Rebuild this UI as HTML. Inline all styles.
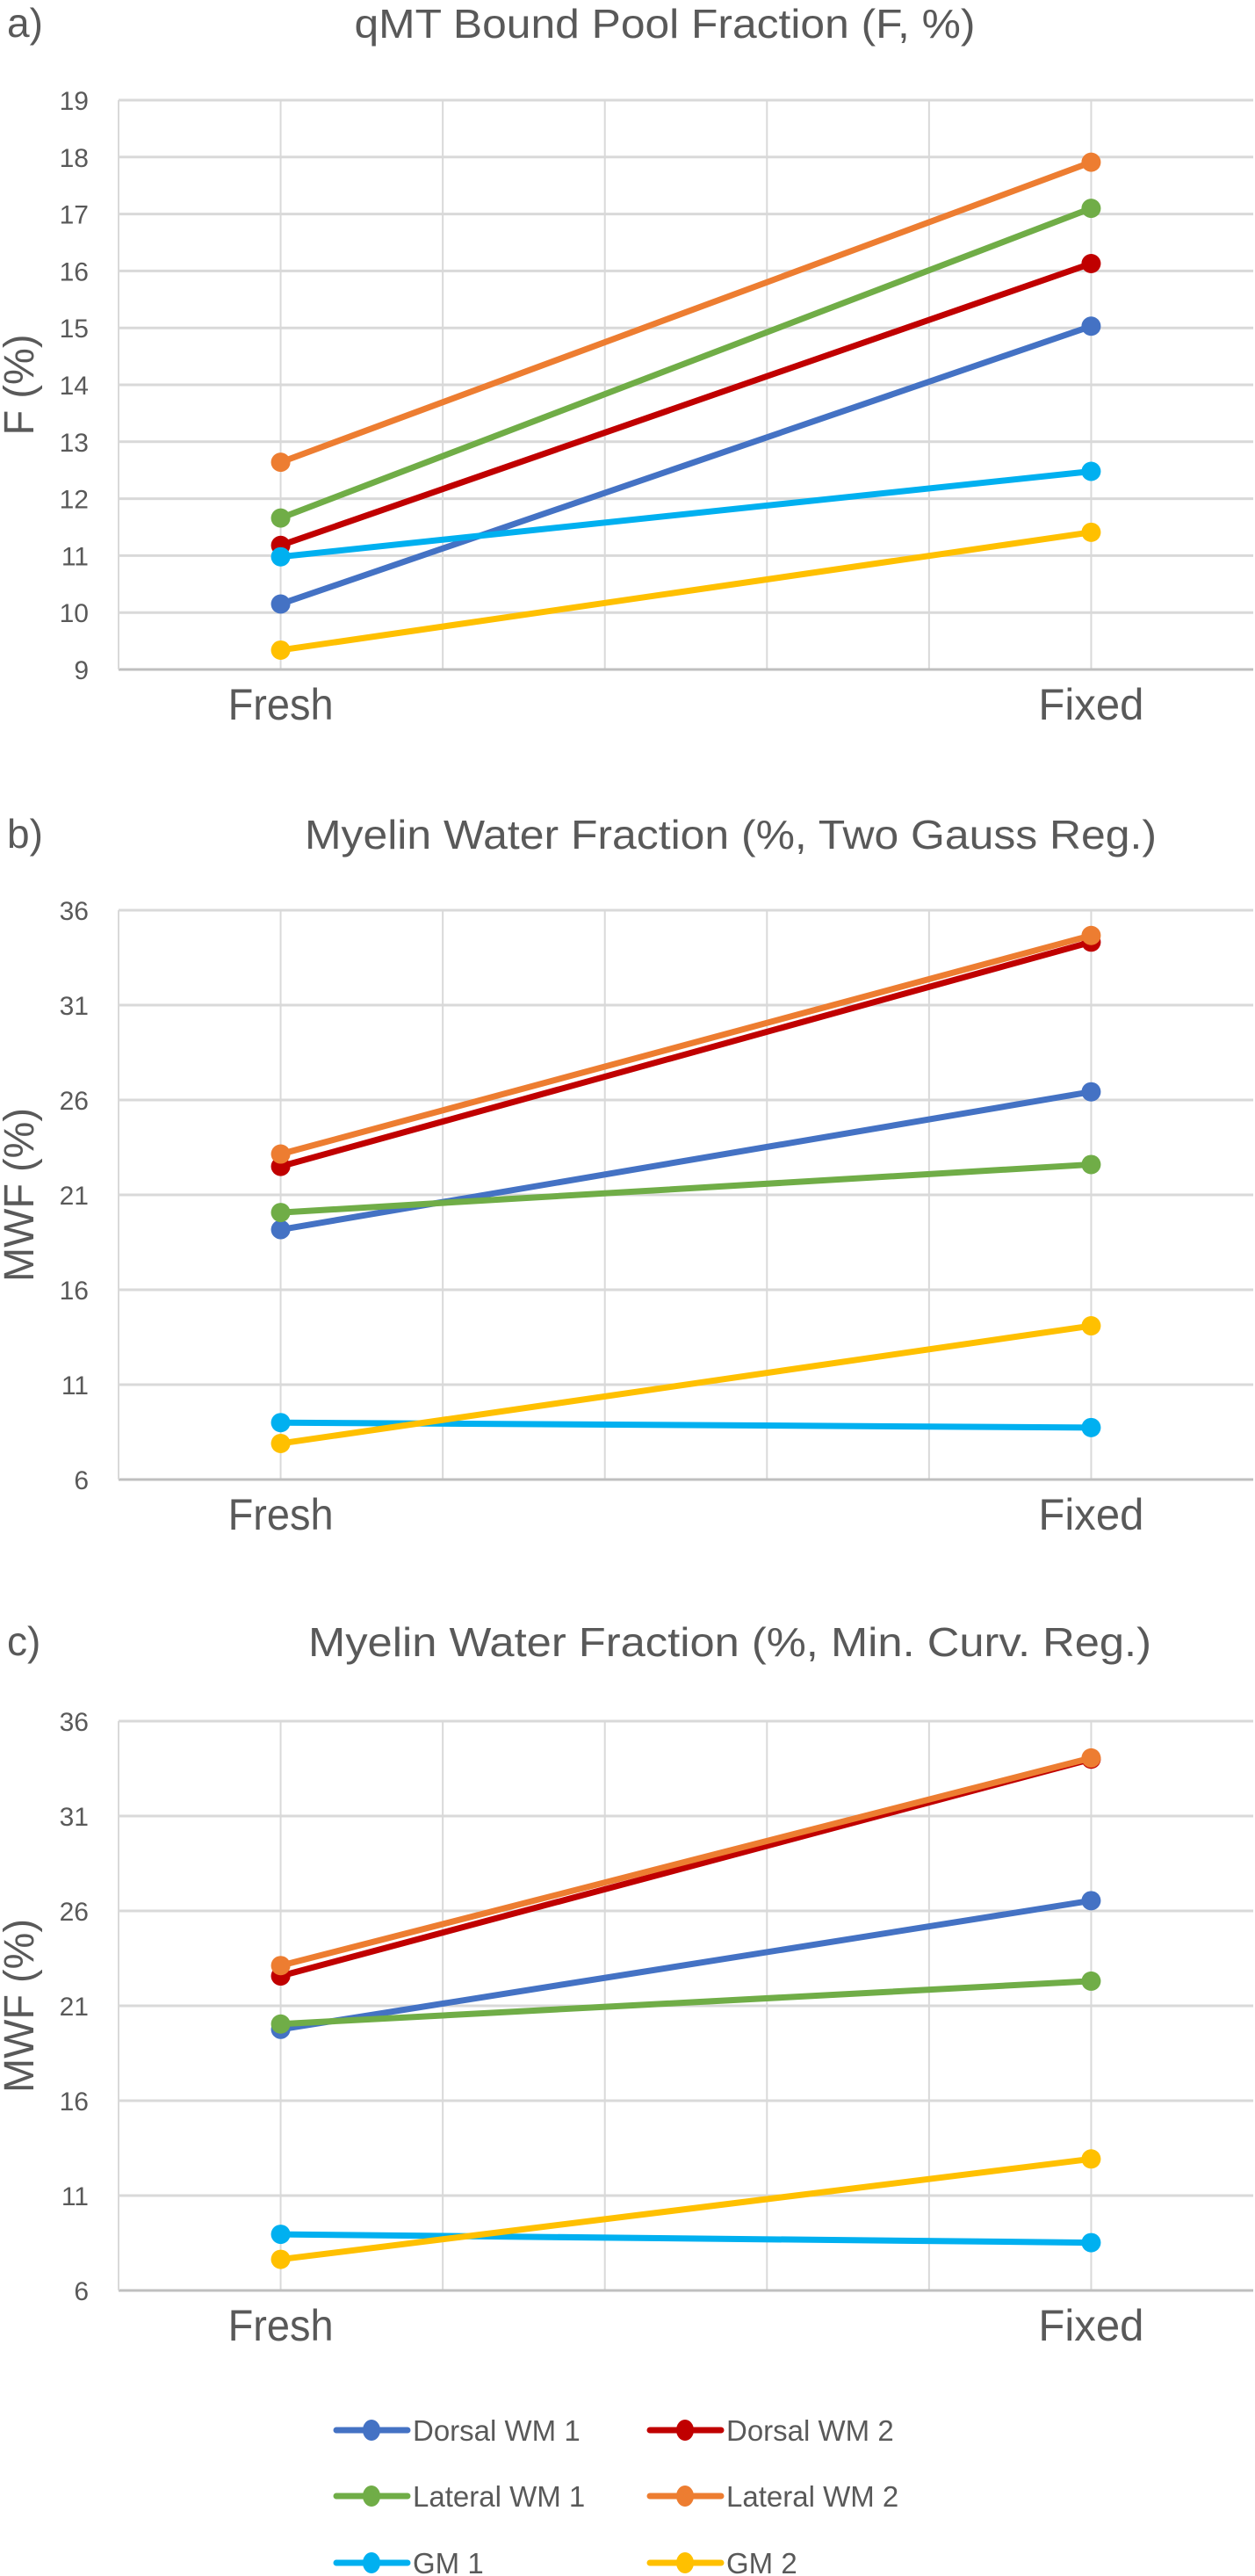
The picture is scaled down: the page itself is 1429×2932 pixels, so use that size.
<!DOCTYPE html>
<html><head><meta charset="utf-8"><style>
html,body{margin:0;padding:0;background:#fff;}
svg{display:block;font-family:"Liberation Sans",sans-serif;}
</style></head><body>
<svg id="fig" width="1429" height="2932" viewBox="0 0 1429 2932" xmlns="http://www.w3.org/2000/svg"></svg>
<script>
const categories = ["Fresh", "Fixed"];
const seriesNames = ["Dorsal WM 1", "Dorsal WM 2", "Lateral WM 1", "Lateral WM 2", "GM 1", "GM 2"];
const seriesKeys = ["dorsal-wm-1", "dorsal-wm-2", "lateral-wm-1", "lateral-wm-2", "gm-1", "gm-2"];
const colors = ["#4472C4", "#C00000", "#70AD47", "#ED7D31", "#00B0F0", "#FFC000"];
// Panel a: qMT F (%)
const aDorsal1 = [10.15, 15.03];
const aDorsal2 = [11.18, 16.13];
const aLateral1 = [11.66, 17.1];
const aLateral2 = [12.64, 17.91];
const aGM1 = [10.98, 12.48];
const aGM2 = [9.34, 11.41];
const aTicks = [9, 10, 11, 12, 13, 14, 15, 16, 17, 18, 19];
// Panel b: MWF two gauss
const bDorsal1 = [19.17, 26.43];
const bDorsal2 = [22.5, 34.32];
const bLateral1 = [20.07, 22.6];
const bLateral2 = [23.15, 34.67];
const bGM1 = [9.0, 8.74];
const bGM2 = [7.9, 14.1];
const bTicks = [6, 11, 16, 21, 26, 31, 36];
// Panel c: MWF min curv
const cDorsal1 = [19.76, 26.54];
const cDorsal2 = [22.57, 34.0];
const cLateral1 = [20.04, 22.3];
const cLateral2 = [23.12, 34.06];
const cGM1 = [8.96, 8.52];
const cGM2 = [7.64, 12.93];
const cTicks = [6, 11, 16, 21, 26, 31, 36];

const NS = "http://www.w3.org/2000/svg";
const svg = document.getElementById("fig");
function mk(tag, attrs, parent) {
  const e = document.createElementNS(NS, tag);
  for (const k in attrs) e.setAttribute(k, attrs[k]);
  (parent || svg).appendChild(e);
  return e;
}

const panels = [
  {id: "a", label: "a)", title: "qMT Bound Pool Fraction (F, %)", titleX: 757, titleW: 707, ylab: "F (%)", ylabW: 115,
   top: 114, series: [aDorsal1, aDorsal2, aLateral1, aLateral2, aGM1, aGM2], ticks: aTicks, titleY: 26},
  {id: "b", label: "b)", title: "Myelin Water Fraction (%, Two Gauss Reg.)", titleX: 832, titleW: 970, ylab: "MWF (%)", ylabW: 198,
   top: 1036, series: [bDorsal1, bDorsal2, bLateral1, bLateral2, bGM1, bGM2], ticks: bTicks, titleY: 949},
  {id: "c", label: "c)", title: "Myelin Water Fraction (%, Min. Curv. Reg.)", titleX: 831, titleW: 960, ylab: "MWF (%)", ylabW: 198,
   top: 1959, series: [cDorsal1, cDorsal2, cLateral1, cLateral2, cGM1, cGM2], ticks: cTicks, titleY: 1868}
];

const plotL = 135, plotR = 1427, plotH = 648;
const nSlots = 7;
const slotW = (plotR - plotL) / nSlots;
const catIdx = [1, 6];
function xPos(i) { return plotL + slotW * catIdx[i]; }

panels.forEach(p => {
  const g = mk("g", {});
  
  
  const ymin = p.ticks[0], ymax = p.ticks[p.ticks.length - 1];
  const bottom = p.top + plotH;
  const y = v => bottom - (v - ymin) / (ymax - ymin) * plotH;

  const lab = mk("text", {x: 8, y: p.titleY + 16, "font-size": 46, fill: "#595959"}, g);
  lab.textContent = p.label;
  
  

  const t = mk("text", {x: p.titleX, y: p.titleY + 17, "font-size": 46, fill: "#595959", "text-anchor": "middle", textLength: p.titleW, lengthAdjust: "spacingAndGlyphs"}, g);
  t.textContent = p.title;
  
  

  for (let k = 1; k < nSlots; k++) {
    const gl = mk("line", {x1: plotL + slotW * k, x2: plotL + slotW * k, y1: p.top, y2: bottom, stroke: "#d9d9d9", "stroke-width": 2}, g);
    
    
  }
  p.ticks.forEach(tv => {
    const gl = mk("line", {x1: plotL, x2: plotR, y1: y(tv), y2: y(tv), stroke: tv === ymin ? "#bfbfbf" : "#d9d9d9", "stroke-width": 3}, g);
    
    
    const tl = mk("text", {x: 101, y: y(tv) + 11, "font-size": 30, fill: "#595959", "text-anchor": "end"}, g);
    tl.textContent = tv;
    
    
  });
  const ax = mk("line", {x1: plotL, x2: plotL, y1: p.top, y2: bottom, stroke: "#d9d9d9", "stroke-width": 2}, g);
  
  

  categories.forEach((c, i) => {
    const ct = mk("text", {x: xPos(i), y: bottom + 57, "font-size": 50, fill: "#595959", "text-anchor": "middle", textLength: 120, lengthAdjust: "spacingAndGlyphs"}, g);
    ct.textContent = c;
    
    
  });

  const cy = (p.top + bottom) / 2;
  const yl = mk("text", {x: 0, y: 0, "font-size": 48, fill: "#595959", "text-anchor": "middle", textLength: p.ylabW, lengthAdjust: "spacingAndGlyphs", transform: `translate(38,${cy}) rotate(-90)`}, g);
  yl.textContent = p.ylab;
  
  

  p.series.forEach((vals, si) => {
    const pts = vals.map((v, i) => `${xPos(i)},${y(v)}`).join(" ");
    const pl = mk("polyline", {points: pts, fill: "none", stroke: colors[si], "stroke-width": 7, "stroke-linecap": "round"}, g);
    
    
    vals.forEach((v, i) => {
      const m = mk("ellipse", {cx: xPos(i), cy: y(v), rx: 11, ry: 11, fill: colors[si]}, g);
      
      
    });
  });
});

const lg = mk("g", {});


const legCols = [383, 740];
const legRows = [2766, 2841, 2917];
seriesNames.forEach((n, i) => {
  const x0 = legCols[i % 2], yy = legRows[Math.floor(i / 2)];
  const e = mk("g", {}, lg);
  
  
  mk("line", {x1: x0, x2: x0 + 81, y1: yy, y2: yy, stroke: colors[i], "stroke-width": 7, "stroke-linecap": "round"}, e);
  mk("ellipse", {cx: x0 + 40, cy: yy, rx: 10, ry: 12, fill: colors[i]}, e);
  const tx = mk("text", {x: x0 + 87, y: yy + 12, "font-size": 33, fill: "#595959"}, e);
  tx.textContent = n;
});
</script>
</body></html>
